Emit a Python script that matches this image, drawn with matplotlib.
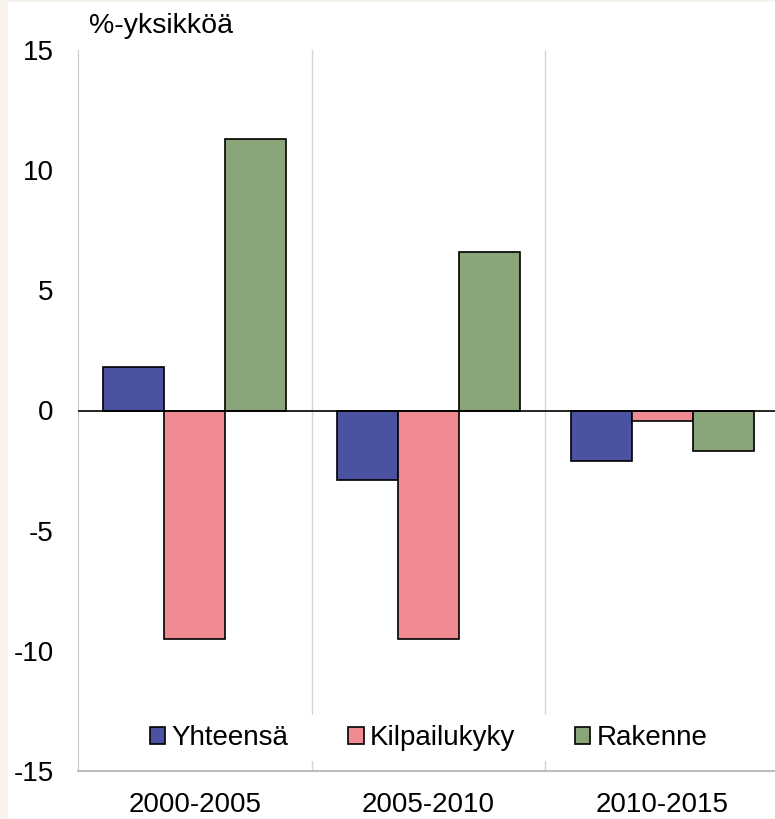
import matplotlib
matplotlib.use("Agg")
import matplotlib.pyplot as plt
import numpy as np

plt.rcParams['font.family'] = ['Liberation Sans', 'DejaVu Sans']

categories = ["2000-2005", "2005-2010", "2010-2015"]
series_names = ["Yhteensä", "Kilpailukyky", "Rakenne"]
yhteensa = [1.8, -2.9, -2.1]
kilpailukyky = [-9.5, -9.5, -0.45]
rakenne = [11.3, 6.6, -1.7]
colors = ["#4C52A2", "#F18B93", "#8AA578"]
yticks = [-15, -10, -5, 0, 5, 10, 15]

FS = 20

fig = plt.figure(figsize=(7.75, 8.19), dpi=100)
fig.patch.set_facecolor("#F7F3EC")
fig.patches.append(plt.Rectangle((8/775, 0), 1, 1 - 2/819, transform=fig.transFigure,
                                 facecolor="white", edgecolor="none", zorder=-10))

ax = fig.add_axes([78/775, (819-771)/819, 701/775, 721/819], zorder=1)
ax.set_facecolor("white")

x = np.arange(len(categories))
w = 0.261
for i, (vals, c, name) in enumerate(zip([yhteensa, kilpailukyky, rakenne], colors, series_names)):
    ax.bar(x + (i - 1) * w, vals, width=w, color=c, edgecolor="black", linewidth=1.2,
           label=name, zorder=3)

ax.set_xlim(-0.5, 2.5)
ax.set_ylim(-15, 15)
ax.set_yticks(yticks)
ax.set_yticklabels([str(t) for t in yticks], fontsize=FS)
ax.set_xticks(x)
ax.set_xticklabels(categories, fontsize=FS)
ax.tick_params(axis='both', length=0)
ax.tick_params(axis='y', pad=17.5)
ax.tick_params(axis='x', pad=15)

for s in ["top", "right"]:
    ax.spines[s].set_visible(False)
ax.spines["left"].set_color("#C8C8C8")
ax.spines["bottom"].set_color("#BEBEBE")
ax.spines["bottom"].set_linewidth(1.5)

for xb in [0.5, 1.5]:
    ax.axvline(xb, color="#D4D4D4", linewidth=1, zorder=1)
ax.axhline(0, color="black", linewidth=1.2, zorder=4)

fig.text(89/775, 1 - 33/819, "%-yksikköä", fontsize=20.5, va="baseline", ha="left")

leg = ax.legend(loc="center", bbox_to_anchor=(0.5, (771-738)/721), ncol=3, frameon=True,
                fontsize=FS, handlelength=0.56, handleheight=0.56, handletextpad=0.22,
                columnspacing=2.15, borderpad=0.35)
leg.get_frame().set_facecolor("white")
leg.get_frame().set_edgecolor("none")
leg.get_frame().set_alpha(1)
leg.get_frame().set_boxstyle("square", pad=0)
leg.set_zorder(5)

fig.savefig("out.png", dpi=100, facecolor=fig.get_facecolor())
